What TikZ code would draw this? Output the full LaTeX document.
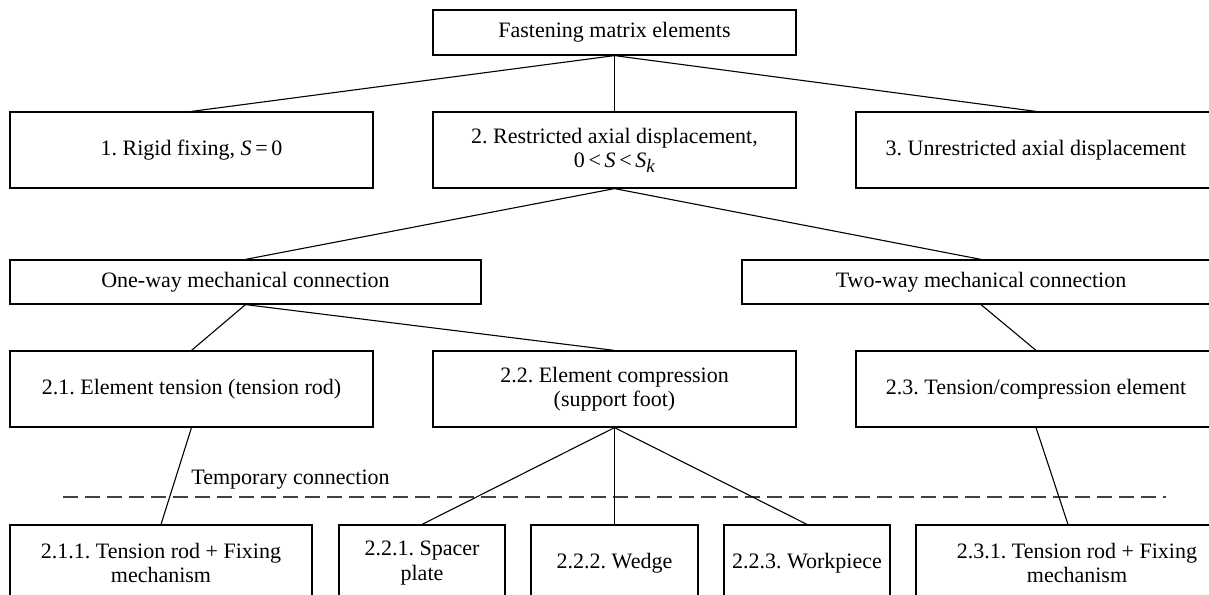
\documentclass[tikz,border=0pt]{standalone}
\usepackage{fontspec}
\setmainfont{Liberation Serif}
\usetikzlibrary{calc}
\frenchspacing
\tikzset{
  box/.style={draw, line width=1.2pt, rectangle, inner sep=0pt, align=center,
    font=\fontsize{22}{24.5}\selectfont},
  conn/.style={line width=1.1pt},
  templine/.style={line width=1.4pt, black!75, dash pattern=on 15pt off 7pt},
  lbl/.style={inner sep=0pt, font=\fontsize{22}{24.5}\selectfont}
}
\newcommand{\Sk}{\textit{S}\raisebox{-0.45ex}{\fontsize{19}{19}\selectfont\textit{k}}}
\begin{document}
\begin{tikzpicture}[x=1pt,y=-1pt]
\clip (0,0) rectangle (1209,594);
\fill[white] (0,0) rectangle (1209,594);
% level 0
\node[box, minimum width=363pt, minimum height=45pt] (top) at (614.5,32.5) {Fastening matrix elements};
% level 1
\node[box, minimum width=363pt, minimum height=76pt] (b1) at (191.5,150) {1. Rigid fixing, \textit{S}\,=\,0};
\node[box, minimum width=363pt, minimum height=76pt] (b2) at (614.5,150) {2. Restricted axial displacement,\\ 0\,<\,\textit{S}\,<\,\Sk};
\node[box, minimum width=360pt, minimum height=76pt] (b3) at (1036,150) {3. Unrestricted axial displacement};
% level 2
\node[box, minimum width=471pt, minimum height=44pt] (one) at (245.5,282) {One-way mechanical connection};
\node[box, minimum width=478pt, minimum height=44pt] (two) at (981,282) {Two-way mechanical connection};
% level 3
\node[box, minimum width=363pt, minimum height=76pt] (b21) at (191.5,389) {2.1. Element tension (tension rod)};
\node[box, minimum width=363pt, minimum height=76pt] (b22) at (614.5,389) {2.2. Element compression\\ (support foot)};
\node[box, minimum width=360pt, minimum height=76pt] (b23) at (1036,389) {2.3. Tension/compression element};
% level 4
\node[box, minimum width=302pt, minimum height=76pt] (b211) at (161,563) {2.1.1. Tension rod + Fixing\\ mechanism};
\node[box, minimum width=166pt, minimum height=76pt] (b221) at (422,563) {2.2.1. Spacer\\ plate};
\node[box, minimum width=167pt, minimum height=76pt] (b222) at (614.5,563) {2.2.2. Wedge};
\node[box, minimum width=166pt, minimum height=76pt] (b223) at (807,563) {2.2.3. Workpiece};
\node[box, minimum width=322pt, minimum height=76pt] (b231) at (1077,563) {2.3.1. Tension rod + Fixing\\ mechanism};
% temporary connection
\coordinate (tl) at (63,497);
\coordinate (tr) at (1166,497);
\draw[templine] (tl) -- (tr);
\node[lbl] (temp) at (290.5,480) {Temporary connection};
% connectors
\draw[conn] (top.south) -- (b1.north);
\draw[conn] (top.south) -- (b2.north);
\draw[conn] (top.south) -- (b3.north);
\draw[conn] (b2.south) -- (one.north);
\draw[conn] (b2.south) -- (two.north);
\draw[conn] (one.south) -- (b21.north);
\draw[conn] (one.south) -- (b22.north);
\draw[conn] (two.south) -- (b23.north);
\draw[conn] (b21.south) -- (b211.north);
\draw[conn] (b22.south) -- (b221.north);
\draw[conn] (b22.south) -- (b222.north);
\draw[conn] (b22.south) -- (b223.north);
\draw[conn] (b23.south) -- ($(b231.north)+(-9,0)$);
\end{tikzpicture}
\end{document}
